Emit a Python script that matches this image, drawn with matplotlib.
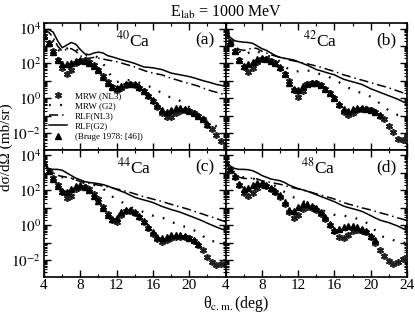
import matplotlib
matplotlib.use('Agg')
import matplotlib.pyplot as plt
import numpy as np
from matplotlib.ticker import LogLocator, FuncFormatter, MultipleLocator, NullFormatter

plt.rcParams['font.family'] = ['Liberation Serif', 'DejaVu Serif']
plt.rcParams['mathtext.fontset'] = 'stix'

# scattering angle (deg), same grid for every curve
THETA = [4.0, 4.5, 5.0, 5.5, 6.0, 6.5, 7.0, 7.5, 8.0, 8.5, 9.0, 9.5, 10.0, 10.5,
         11.0, 11.5, 12.0, 12.5, 13.0, 13.5, 14.0, 14.5, 15.0, 15.5, 16.0, 16.5,
         17.0, 17.5, 18.0, 18.5, 19.0, 19.5, 20.0, 20.5, 21.0, 21.5, 22.0, 22.5,
         23.0, 23.5, 24.0]

# log10(dsigma/dOmega)
# ---- 40Ca
rlf_g2_40 = [3.9, 3.95, 3.8, 3.3, 2.9, 3.05, 3.2, 3.1, 2.8, 2.55, 2.5, 2.6, 2.65, 2.6, 2.45, 2.38,
             2.3, 2.22, 2.15, 2.08, 2.0, 1.9, 1.8, 1.78, 1.75, 1.7, 1.65, 1.55, 1.45, 1.4, 1.35,
             1.3, 1.25, 1.18, 1.1, 1.02, 0.95, 0.88, 0.8, 0.75, 0.7]
rlf_nl3_40 = [3.85, 3.8, 3.5, 3.0, 2.7, 2.8, 2.85, 2.7, 2.45, 2.3, 2.3, 2.35, 2.3, 2.25, 2.2, 2.15,
              2.1, 2.03, 1.95, 1.88, 1.8, 1.7, 1.6, 1.52, 1.45, 1.4, 1.35, 1.25, 1.15, 1.08, 1.0,
              0.92, 0.85, 0.78, 0.7, 0.6, 0.5, 0.42, 0.35, 0.28, 0.2]
mrw_g2_40 = [3.7, 3.6, 3.3, 2.8, 2.6, 2.85, 2.95, 2.85, 2.6, 2.45, 2.5, 2.5, 2.3, 2.0, 1.6, 1.2,
             0.95, 0.95, 1.05, 1.05, 1.0, 0.9, 0.8, 0.7, 0.6, 0.45, 0.3, 0.15, 0.05, 0.0, -0.15,
             -0.3, -0.5, -0.7, -0.9, -1.1, -1.3, -1.45, -1.6, -1.7, -1.75]
mrw_nl3_40 = [3.55, 3.15, 2.7, 2.2, 1.75, 1.4, 1.6, 2.0, 2.15, 2.2, 2.1, 1.9, 1.65, 1.3, 0.95, 0.65,
              0.5, 0.6, 0.75, 0.8, 0.75, 0.6, 0.4, 0.15, -0.15, -0.5, -0.85, -1.05, -1.05, -0.85,
              -0.7, -0.65, -0.7, -0.85, -1.0, -1.2, -1.5, -1.75, -2.1, -2.45, -2.7]
exp_40 = [3.6, 3.15, 2.65, 2.2, 1.95, 1.95, 2.05, 2.15, 2.2, 2.15, 2.05, 1.85, 1.6, 1.25, 0.9, 0.65,
          0.6, 0.7, 0.8, 0.85, 0.8, 0.65, 0.45, 0.2, -0.1, -0.4, -0.65, -0.75, -0.65, -0.55, -0.55,
          -0.6, -0.7, -0.85, -1.0, -1.2, -1.45]

# ---- 42Ca
rlf_g2_42 = [3.75, 3.5, 3.3, 3.25, 3.22, 3.2, 3.15, 3.0, 2.85, 2.75, 2.6, 2.45, 2.35, 2.3, 2.25, 2.2,
             2.1, 2.0, 1.9, 1.78, 1.65, 1.58, 1.5, 1.42, 1.35, 1.22, 1.1, 1.02, 0.95, 0.88, 0.8,
             0.68, 0.55, 0.45, 0.35, 0.25, 0.15, 0.05, -0.05, -0.18, -0.3]
rlf_nl3_42 = [3.7, 3.3, 3.0, 2.8, 2.75, 2.8, 2.9, 2.85, 2.7, 2.6, 2.5, 2.42, 2.35, 2.28, 2.2, 2.15,
              2.1, 2.04, 1.98, 1.92, 1.85, 1.78, 1.7, 1.62, 1.55, 1.45, 1.35, 1.28, 1.2, 1.12, 1.05,
              0.98, 0.9, 0.82, 0.75, 0.68, 0.6, 0.51, 0.42, 0.33, 0.25]
mrw_g2_42 = [3.7, 3.4, 3.0, 2.7, 2.45, 2.6, 2.75, 2.7, 2.55, 2.45, 2.4, 2.3, 2.1, 1.85, 1.65, 1.55,
             1.55, 1.6, 1.6, 1.55, 1.45, 1.38, 1.3, 1.2, 1.1, 0.93, 0.75, 0.62, 0.5, 0.4, 0.3, 0.2,
             0.1, -0.05, -0.3, -0.5, -0.7, -0.85, -0.95, -0.98, -1.0]
mrw_nl3_42 = [3.7, 3.2, 2.7, 2.2, 1.8, 1.5, 1.75, 2.1, 2.25, 2.25, 2.15, 2.0, 1.75, 1.4, 1.0, 0.5,
              0.1, 0.4, 0.8, 0.9, 0.9, 0.75, 0.55, 0.3, 0.0, -0.4, -0.75, -0.95, -0.85, -0.65, -0.6,
              -0.6, -0.65, -0.8, -1.0, -1.2, -1.55, -1.9, -2.3, -2.4, -2.2]
exp_42 = [3.75, 3.2, 2.7, 2.2, 1.85, 1.95, 2.1, 2.25, 2.3, 2.25, 2.15, 2.0, 1.8, 1.4, 0.9, 0.55,
          0.5, 0.7, 0.85, 0.9, 0.88, 0.75, 0.55, 0.3, 0.0, -0.3, -0.6, -0.7, -0.6, -0.55, -0.55,
          -0.6, -0.65, -0.8, -0.95]

# ---- 44Ca
rlf_g2_44 = [3.55, 3.25, 3.2, 3.2, 3.15, 3.0, 2.85, 2.7, 2.6, 2.5, 2.45, 2.42, 2.38, 2.33, 2.25, 2.15,
             2.05, 1.95, 1.85, 1.72, 1.6, 1.52, 1.45, 1.38, 1.3, 1.19, 1.08, 0.99, 0.9, 0.83, 0.75,
             0.65, 0.55, 0.45, 0.35, 0.24, 0.12, 0.01, -0.1, -0.2, -0.3]
rlf_nl3_44 = [3.5, 3.2, 3.0, 2.85, 2.8, 2.75, 2.7, 2.6, 2.5, 2.45, 2.4, 2.35, 2.3, 2.25, 2.2, 2.14,
              2.08, 2.02, 1.95, 1.88, 1.8, 1.72, 1.63, 1.57, 1.5, 1.43, 1.36, 1.28, 1.2, 1.12, 1.05,
              0.98, 0.9, 0.81, 0.72, 0.64, 0.55, 0.47, 0.38, 0.29, 0.2]
mrw_g2_44 = [3.5, 3.3, 3.0, 2.8, 2.75, 2.75, 2.7, 2.6, 2.5, 2.4, 2.35, 2.3, 2.25, 2.1, 1.85, 1.65,
             1.5, 1.35, 1.2, 1.05, 0.95, 0.85, 0.75, 0.65, 0.55, 0.5, 0.45, 0.32, 0.2, 0.1, 0.0,
             -0.08, -0.15, -0.28, -0.4, -0.6, -0.85, -0.9, -0.95, -0.98, -1.0]
mrw_nl3_44 = [3.55, 3.1, 2.7, 2.3, 1.9, 1.55, 1.7, 2.05, 2.2, 2.2, 2.05, 1.8, 1.5, 1.05, 0.65, 0.3,
              0.2, 0.6, 0.8, 0.8, 0.7, 0.5, 0.2, -0.15, -0.5, -0.8, -0.95, -0.85, -0.7, -0.65,
              -0.65, -0.65, -0.75, -0.9, -1.1, -1.4, -1.8, -2.1, -2.3, -2.2, -2.05]
exp_44 = [3.55, 3.1, 2.65, 2.25, 1.95, 1.9, 2.05, 2.25, 2.3, 2.2, 2.0, 1.7, 1.4, 1.0, 0.6, 0.35,
          0.4, 0.75, 0.85, 0.85, 0.75, 0.55, 0.25, -0.1, -0.4, -0.65, -0.75, -0.65, -0.55, -0.55,
          -0.55, -0.6, -0.7, -0.85, -1.05]

# ---- 48Ca
rlf_g2_48 = [3.6, 3.4, 3.25, 3.2, 3.2, 3.18, 3.12, 3.0, 2.85, 2.75, 2.65, 2.6, 2.55, 2.45, 2.3, 2.2,
             2.1, 2.03, 1.95, 1.85, 1.75, 1.65, 1.55, 1.45, 1.35, 1.22, 1.1, 1.02, 0.95, 0.88, 0.8,
             0.68, 0.55, 0.42, 0.3, 0.22, 0.15, 0.05, -0.05, -0.18, -0.3]
rlf_nl3_48 = [3.55, 3.2, 2.95, 2.75, 2.68, 2.68, 2.7, 2.65, 2.55, 2.5, 2.45, 2.4, 2.35, 2.28, 2.2,
              2.14, 2.08, 2.02, 1.95, 1.88, 1.8, 1.73, 1.65, 1.58, 1.5, 1.4, 1.3, 1.22, 1.15, 1.08,
              1.0, 0.94, 0.88, 0.8, 0.72, 0.65, 0.58, 0.5, 0.42, 0.35, 0.28]
mrw_g2_48 = [3.55, 3.3, 3.0, 2.8, 2.75, 2.78, 2.7, 2.55, 2.45, 2.4, 2.35, 2.25, 2.1, 1.9, 1.72, 1.6,
             1.5, 1.4, 1.25, 1.15, 1.05, 0.92, 0.8, 0.7, 0.6, 0.57, 0.55, 0.5, 0.45, 0.38, 0.3,
             0.15, 0.0, -0.3, -0.6, -0.68, -0.75, -0.85, -0.95, -0.98, -1.0]
mrw_nl3_48 = [3.55, 3.15, 2.75, 2.3, 1.85, 1.65, 1.85, 2.15, 2.3, 2.25, 2.1, 1.9, 1.6, 1.2, 0.75, 0.4,
              0.6, 0.95, 1.05, 1.0, 0.9, 0.65, 0.35, 0.0, -0.35, -0.65, -0.7, -0.55, -0.35, -0.25,
              -0.3, -0.4, -0.65, -1.0, -1.4, -1.75, -2.05, -2.2, -2.1, -1.95, -1.8]
exp_48 = [3.6, 3.2, 2.8, 2.35, 2.1, 2.15, 2.3, 2.42, 2.42, 2.3, 2.15, 1.95, 1.75, 1.35, 0.85, 0.8,
          1.05, 1.2, 1.2, 1.1, 1.0, 0.75, 0.5, 0.1, -0.25, -0.2, -0.1, -0.05, -0.05, -0.1, -0.2,
          -0.35, -0.6, -0.85]

NUCLEI = ['40', '42', '44', '48']
TAGS = ['(a)', '(b)', '(c)', '(d)']
PANELS = [
    (mrw_nl3_40, mrw_g2_40, rlf_nl3_40, rlf_g2_40, exp_40),
    (mrw_nl3_42, mrw_g2_42, rlf_nl3_42, rlf_g2_42, exp_42),
    (mrw_nl3_44, mrw_g2_44, rlf_nl3_44, rlf_g2_44, exp_44),
    (mrw_nl3_48, mrw_g2_48, rlf_nl3_48, rlf_g2_48, exp_48),
]
LABELS = ['MRW (NL3)', 'MRW (G2)', 'RLF(NL3)', 'RLF(G2)', '(Bruge 1978: [46])']
CA_X = [0.49, 0.52, 0.495, 0.51]

fig = plt.figure(figsize=(4.15, 3.16), dpi=100)
gs = fig.add_gridspec(2, 2, left=0.106, right=0.981, top=0.928, bottom=0.125,
                      wspace=0, hspace=0)

def even_dec(v, pos):
    e = int(round(np.log10(v)))
    return r'$10^{%d}$' % e if e % 2 == 0 else ''

th = np.array(THETA)
for i, (nl3, g2, rnl3, rg2, exp) in enumerate(PANELS):
    r, c = divmod(i, 2)
    ax = fig.add_subplot(gs[r, c])
    ax.plot(th, 10**np.array(nl3), ls='none', marker=(6, 2, 0), ms=5, mew=1.2,
            color='#202020', label=LABELS[0], zorder=3)
    ax.plot(th, 10**np.array(g2), ls=(0, (0.8, 4.2)), lw=1.6, color='black',
            label=LABELS[1], zorder=2)
    ax.plot(th, 10**np.array(rnl3), ls=(0, (6, 2.5, 1, 2.5)), lw=1.1, color='black',
            label=LABELS[2], zorder=2)
    ax.plot(th, 10**np.array(rg2), ls='-', lw=1.1, color='black', label=LABELS[3], zorder=2)
    ax.plot(th[:len(exp)], 10**np.array(exp), ls='none', marker='^', ms=4.2,
            color='black', label=LABELS[4], zorder=4)

    ax.set_yscale('log')
    ax.set_xlim(4, 24)
    ax.set_ylim(10**-2.93, 10**4.33)
    ax.xaxis.set_major_locator(MultipleLocator(4))
    ax.xaxis.set_minor_locator(MultipleLocator(2))
    ax.yaxis.set_major_locator(LogLocator(base=10, numticks=20))
    ax.yaxis.set_minor_locator(LogLocator(base=10, subs=np.arange(2, 10), numticks=20))
    ax.yaxis.set_minor_formatter(NullFormatter())
    ax.yaxis.set_major_formatter(FuncFormatter(even_dec))
    ax.tick_params(which='both', direction='in', top=True, right=True, labelsize=11, pad=2)
    ax.tick_params(which='major', length=5, width=1)
    ax.tick_params(which='minor', length=2.5, width=0.8)
    for s in ax.spines.values():
        s.set_linewidth(1.2)
    if c == 1:
        ax.tick_params(labelleft=False)
    if r == 0:
        ax.tick_params(labelbottom=False)
    elif c == 0:
        ax.set_xticks([4, 8, 12, 16, 20, 24])
        ax.set_xticklabels(['4', '8', '12', '16', '20', ''])

    ax.text(CA_X[i], 0.86, r'$^{%s}$Ca' % NUCLEI[i], transform=ax.transAxes,
            ha='center', va='center', fontsize=12.5)
    ax.text(0.885, 0.862, TAGS[i], transform=ax.transAxes, ha='center', va='center',
            fontsize=12.5)

    if i == 0:
        ax.legend(loc='upper left', bbox_to_anchor=(0.03, 0.455), frameon=False,
                  fontsize=6.5, handlelength=2.0, handletextpad=0.8, labelspacing=0.2,
                  borderpad=0, borderaxespad=0)

fig.text(0.545, 0.962, r'E$_{\rm lab}$ = 1000 MeV', ha='center', va='center', fontsize=11.5)
fig.text(0.014, 0.535, 'dσ/dΩ (mb/sr)', rotation=90, ha='center',
         va='center', fontsize=11)
fig.text(0.489, 0.037, r'θ$_{\rm c.m.}$(deg)', ha='left', va='center', fontsize=11.5)

fig.savefig('out.png', dpi=100)
